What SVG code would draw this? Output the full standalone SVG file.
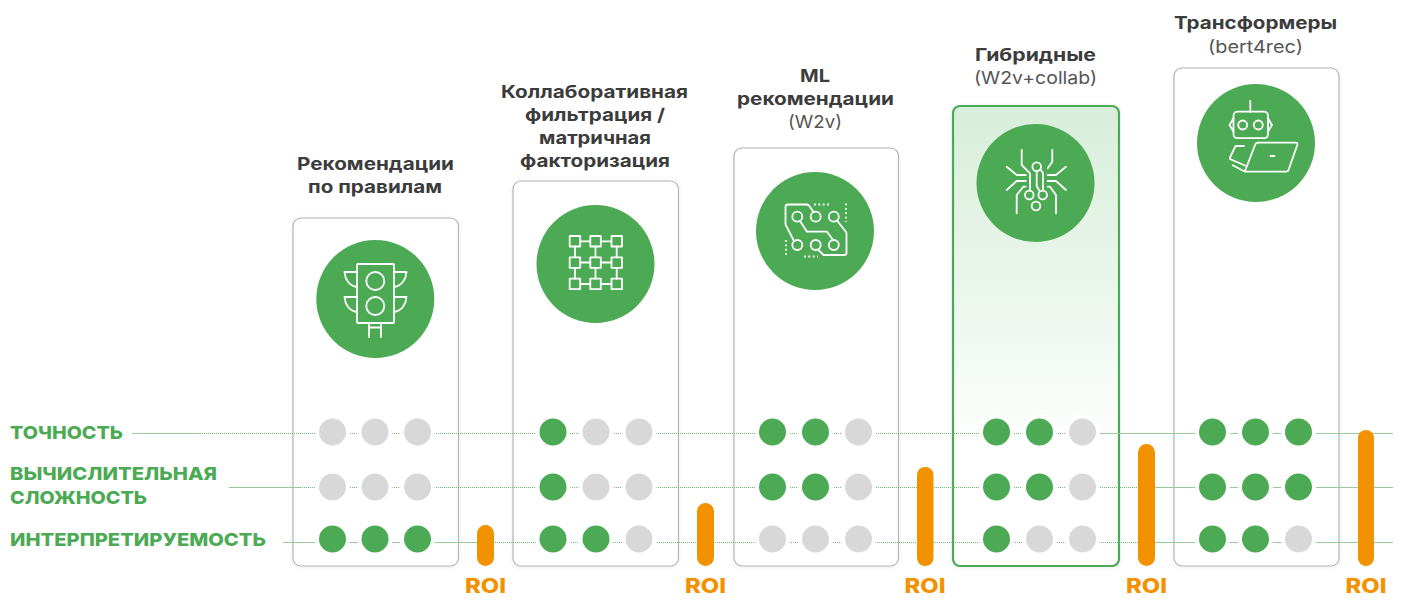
<svg xmlns="http://www.w3.org/2000/svg" width="1407" height="611" viewBox="0 0 1407 611">
<style>
.card{fill:#fff;stroke:#b4b4b4;stroke-width:1.2}
.hl{fill:url(#g);stroke:#4caa54;stroke-width:2.2}
.disc{fill:#4caa54}
.ic{fill:none;stroke:#fff;stroke-width:1.8;stroke-linecap:round;stroke-linejoin:round}
.icd{fill:none;stroke:#fff;stroke-width:1.8;stroke-dasharray:1.8 2.6}
.t{font-family:"Inter","Liberation Sans",sans-serif;font-size:17.5px;font-weight:700;fill:#3c3c3c;text-anchor:middle}
.s{font-family:"Inter","Liberation Sans",sans-serif;font-size:17.5px;font-weight:400;fill:#555;text-anchor:middle}
.l{font-family:"Inter","Liberation Sans",sans-serif;font-size:18px;font-weight:800;fill:#4caa54}
.r{font-family:"Inter","Liberation Sans",sans-serif;font-size:20px;font-weight:800;fill:#f39200;text-anchor:middle}
.sol{stroke:#98cb9c;stroke-width:1.1;fill:none}
.dot{stroke:#6fb976;stroke-width:1.1;stroke-dasharray:1 1;fill:none}
.halo{fill:#fff}
.on{fill:#4caa54}
.off{fill:#d8d8d8}
.bar{fill:#f39200}
</style>
<defs>
<linearGradient id="g" x1="0" y1="0" x2="0" y2="1"><stop offset="0" stop-color="#d8eeda"/><stop offset=".45" stop-color="#edf7ee"/><stop offset=".75" stop-color="#fff"/></linearGradient>
<filter id="sh" x="-10%" y="-5%" width="120%" height="110%"><feDropShadow dx="0" dy="1" stdDeviation="2.5" flood-color="#000" flood-opacity=".07"/></filter>
</defs>

<g id="card-rules">
<rect class="card" filter="url(#sh)" x="293" y="218" width="165.500" height="348" rx="8"/>
<circle class="disc" cx="375.300" cy="299" r="59"/>
<g class="ic">
<rect x="357" y="264" width="37" height="59" rx="1"/>
<circle cx="375.300" cy="281" r="9"/><circle cx="375.300" cy="306" r="9"/>
<path d="M357 272H344.500C345 279 349 286 357 287M394 272H406.500C406 279 402 286 394 287M357 297H344.500C345 304 349 311 357 312M394 297H406.500C406 304 402 311 394 312"/>
<path d="M369 323V337M381 323V337M369 327.500H381"/>
</g>
<text class="t" x="375.500" y="170" textLength="157" lengthAdjust="spacingAndGlyphs">Рекомендации</text>
<text class="t" x="375" y="193" textLength="134" lengthAdjust="spacingAndGlyphs">по правилам</text>
</g>

<g id="card-collab">
<rect class="card" filter="url(#sh)" x="513" y="181" width="165.500" height="385" rx="8"/>
<circle class="disc" cx="595.500" cy="264" r="59"/>
<g class="ic">
<rect x="569.700" y="236" width="10.500" height="10.500"/><rect x="590.300" y="236" width="10.500" height="10.500"/><rect x="611.500" y="236" width="10.500" height="10.500"/>
<rect x="569.700" y="257.300" width="10.500" height="10.500"/><rect x="590.300" y="257.300" width="10.500" height="10.500"/><rect x="611.500" y="257.300" width="10.500" height="10.500"/>
<rect x="569.700" y="278.700" width="10.500" height="10.500"/><rect x="590.300" y="278.700" width="10.500" height="10.500"/><rect x="611.500" y="278.700" width="10.500" height="10.500"/>
<path d="M580.200 241.300H590.300M600.800 241.300H611.500M580.200 262.500H590.300M600.800 262.500H611.500M580.200 284H590.300M600.800 284H611.500M575 246.500V257.300M595.500 246.500V257.300M616.700 246.500V257.300M575 267.800V278.700M595.500 267.800V278.700M616.700 267.800V278.700"/>
</g>
<text class="t" x="594.500" y="98" textLength="187" lengthAdjust="spacingAndGlyphs">Коллаборативная</text>
<text class="t" x="595" y="121" textLength="140" lengthAdjust="spacingAndGlyphs">фильтрация /</text>
<text class="t" x="595" y="144" textLength="112" lengthAdjust="spacingAndGlyphs">матричная</text>
<text class="t" x="595" y="167" textLength="150" lengthAdjust="spacingAndGlyphs">факторизация</text>
</g>

<g id="card-ml">
<rect class="card" filter="url(#sh)" x="734" y="148" width="164.500" height="418" rx="8"/>
<circle class="disc" cx="815" cy="231" r="59"/>
<g class="ic">
<circle cx="797.300" cy="216.700" r="5"/><circle cx="815.700" cy="216.700" r="5"/><circle cx="833.800" cy="216.700" r="5"/>
<circle cx="797.300" cy="245" r="5"/><circle cx="815.700" cy="245" r="5"/><circle cx="833.800" cy="245" r="5"/>
<path d="M813.500 212L809 205.500Q808 204.500 806.500 204.500H788Q785.500 204.500 785.500 207V224.500L794 241"/>
<path d="M800 221L807 231.700H827L833 240"/>
<path d="M837 220.500L846 232Q846.500 233 846.500 234V253Q846.500 255 844.500 255H823.500L818 249.500"/>
</g>
<path class="icd" d="M814 204.500H829M846 203.500V222M786 240V257M804 256.500H818"/>
<text class="t" x="815" y="82" textLength="30" lengthAdjust="spacingAndGlyphs">ML</text>
<text class="t" x="815.500" y="105" textLength="157" lengthAdjust="spacingAndGlyphs">рекомендации</text>
<text class="s" x="815" y="128" textLength="54" lengthAdjust="spacingAndGlyphs">(W2v)</text>
</g>

<g id="card-hybrid">
<rect class="hl" filter="url(#sh)" x="953" y="106" width="166" height="460" rx="7"/>
<circle class="disc" cx="1035.500" cy="183" r="59"/>
<g class="ic">
<circle cx="1036.700" cy="166.700" r="4.300"/><circle cx="1029.300" cy="195" r="4.300"/><circle cx="1042.700" cy="195" r="4.300"/><circle cx="1036" cy="206" r="4.300"/>
<path d="M1021.700 150V165L1030 173.300V190.700"/>
<path d="M1052.300 150V161.700L1047.700 168.300"/>
<path d="M1036.700 171V186L1039.500 191"/>
<path d="M1040.500 169.500L1043 173V190.500"/>
<path d="M1006.700 166.700L1016.700 175H1025.700M1006.700 190L1016.700 181H1025.700M1066 166.700L1056 175H1047.700M1066 190L1056 181H1047.700"/>
<path d="M1016.700 213.300V195L1023.300 186.700H1025.700M1056 213.300V195L1050 186.700H1047.700"/>
</g>
<text class="t" x="1035.500" y="61" textLength="121" lengthAdjust="spacingAndGlyphs">Гибридные</text>
<text class="s" x="1035.500" y="84" textLength="123" lengthAdjust="spacingAndGlyphs">(W2v+collab)</text>
</g>

<g id="card-transformers">
<rect class="card" filter="url(#sh)" x="1174" y="68" width="165" height="498" rx="8"/>
<circle class="disc" cx="1256" cy="143" r="59"/>
<g class="ic">
<path d="M1250.300 101V111.700"/>
<rect x="1233.500" y="111.700" width="34.500" height="26.500" rx="4"/>
<path d="M1233.500 118.500L1229.500 125L1233.500 131.500M1268 118.500L1272 125L1268 131.500"/>
<circle cx="1242.700" cy="125" r="4.500"/><circle cx="1258.300" cy="125" r="4.500"/>
<path d="M1258 142.700H1295.500Q1298 142.700 1297.300 145L1288.500 170Q1288 171.700 1286 171.700H1245L1232.700 165.300"/>
<path d="M1258 142.700Q1256 142.700 1255.200 144.500L1245 171"/>
<path d="M1244 146H1235.500L1230 157.500Q1229.500 159 1231 159.500L1245 165.500"/>
<path d="M1270.500 156H1274.500"/>
</g>
<text class="t" x="1255.500" y="29" textLength="163" lengthAdjust="spacingAndGlyphs">Трансформеры</text>
<text class="s" x="1255.500" y="53" textLength="95" lengthAdjust="spacingAndGlyphs">(bert4rec)</text>
</g>

<g id="connectors">
<path class="sol" d="M132 433.500H200M229 487.500H300M283 542.500H477M1100 433.500H1393M1138 487.500H1393M1138 542.500H1393"/>
<path class="dot" d="M200 433.500H1100M300 487.500H1138M477 542.500H1138"/>
</g>

<g id="rating-dots">
<g class="halo">
<circle cx="332.500" cy="432" r="17.500"/><circle cx="375" cy="432" r="17.500"/><circle cx="417.500" cy="432" r="17.500"/>
<circle cx="332.500" cy="487" r="17.500"/><circle cx="375" cy="487" r="17.500"/><circle cx="417.500" cy="487" r="17.500"/>
<circle cx="332.500" cy="539" r="17.500"/><circle cx="375" cy="539" r="17.500"/><circle cx="417.500" cy="539" r="17.500"/>
<circle cx="553" cy="432" r="17.500"/><circle cx="596" cy="432" r="17.500"/><circle cx="639" cy="432" r="17.500"/>
<circle cx="553" cy="487" r="17.500"/><circle cx="596" cy="487" r="17.500"/><circle cx="639" cy="487" r="17.500"/>
<circle cx="553" cy="539" r="17.500"/><circle cx="596" cy="539" r="17.500"/><circle cx="639" cy="539" r="17.500"/>
<circle cx="772.500" cy="432" r="17.500"/><circle cx="815.500" cy="432" r="17.500"/><circle cx="858.500" cy="432" r="17.500"/>
<circle cx="772.500" cy="487" r="17.500"/><circle cx="815.500" cy="487" r="17.500"/><circle cx="858.500" cy="487" r="17.500"/>
<circle cx="772.500" cy="539" r="17.500"/><circle cx="815.500" cy="539" r="17.500"/><circle cx="858.500" cy="539" r="17.500"/>
<circle cx="996.500" cy="432" r="17.500"/><circle cx="1039.500" cy="432" r="17.500"/><circle cx="1082.500" cy="432" r="17.500"/>
<circle cx="996.500" cy="487" r="17.500"/><circle cx="1039.500" cy="487" r="17.500"/><circle cx="1082.500" cy="487" r="17.500"/>
<circle cx="996.500" cy="539" r="17.500"/><circle cx="1039.500" cy="539" r="17.500"/><circle cx="1082.500" cy="539" r="17.500"/>
<circle cx="1212.500" cy="432" r="17.500"/><circle cx="1255.500" cy="432" r="17.500"/><circle cx="1298.500" cy="432" r="17.500"/>
<circle cx="1212.500" cy="487" r="17.500"/><circle cx="1255.500" cy="487" r="17.500"/><circle cx="1298.500" cy="487" r="17.500"/>
<circle cx="1212.500" cy="539" r="17.500"/><circle cx="1255.500" cy="539" r="17.500"/><circle cx="1298.500" cy="539" r="17.500"/>
</g>
<circle class="off" cx="332.500" cy="432" r="13.500"/><circle class="off" cx="375" cy="432" r="13.500"/><circle class="off" cx="417.500" cy="432" r="13.500"/>
<circle class="off" cx="332.500" cy="487" r="13.500"/><circle class="off" cx="375" cy="487" r="13.500"/><circle class="off" cx="417.500" cy="487" r="13.500"/>
<circle class="on" cx="332.500" cy="539" r="13.500"/><circle class="on" cx="375" cy="539" r="13.500"/><circle class="on" cx="417.500" cy="539" r="13.500"/>
<circle class="on" cx="553" cy="432" r="13.500"/><circle class="off" cx="596" cy="432" r="13.500"/><circle class="off" cx="639" cy="432" r="13.500"/>
<circle class="on" cx="553" cy="487" r="13.500"/><circle class="off" cx="596" cy="487" r="13.500"/><circle class="off" cx="639" cy="487" r="13.500"/>
<circle class="on" cx="553" cy="539" r="13.500"/><circle class="on" cx="596" cy="539" r="13.500"/><circle class="off" cx="639" cy="539" r="13.500"/>
<circle class="on" cx="772.500" cy="432" r="13.500"/><circle class="on" cx="815.500" cy="432" r="13.500"/><circle class="off" cx="858.500" cy="432" r="13.500"/>
<circle class="on" cx="772.500" cy="487" r="13.500"/><circle class="on" cx="815.500" cy="487" r="13.500"/><circle class="off" cx="858.500" cy="487" r="13.500"/>
<circle class="off" cx="772.500" cy="539" r="13.500"/><circle class="off" cx="815.500" cy="539" r="13.500"/><circle class="off" cx="858.500" cy="539" r="13.500"/>
<circle class="on" cx="996.500" cy="432" r="13.500"/><circle class="on" cx="1039.500" cy="432" r="13.500"/><circle class="off" cx="1082.500" cy="432" r="13.500"/>
<circle class="on" cx="996.500" cy="487" r="13.500"/><circle class="on" cx="1039.500" cy="487" r="13.500"/><circle class="off" cx="1082.500" cy="487" r="13.500"/>
<circle class="on" cx="996.500" cy="539" r="13.500"/><circle class="off" cx="1039.500" cy="539" r="13.500"/><circle class="off" cx="1082.500" cy="539" r="13.500"/>
<circle class="on" cx="1212.500" cy="432" r="13.500"/><circle class="on" cx="1255.500" cy="432" r="13.500"/><circle class="on" cx="1298.500" cy="432" r="13.500"/>
<circle class="on" cx="1212.500" cy="487" r="13.500"/><circle class="on" cx="1255.500" cy="487" r="13.500"/><circle class="on" cx="1298.500" cy="487" r="13.500"/>
<circle class="on" cx="1212.500" cy="539" r="13.500"/><circle class="on" cx="1255.500" cy="539" r="13.500"/><circle class="off" cx="1298.500" cy="539" r="13.500"/>
</g>

<g id="axis-labels">
<text class="l" x="10" y="438.500" textLength="113" lengthAdjust="spacingAndGlyphs">ТОЧНОСТЬ</text>
<text class="l" x="10" y="480" textLength="207" lengthAdjust="spacingAndGlyphs">ВЫЧИСЛИТЕЛЬНАЯ</text>
<text class="l" x="10" y="503.500" textLength="137" lengthAdjust="spacingAndGlyphs">СЛОЖНОСТЬ</text>
<text class="l" x="10" y="546" textLength="256" lengthAdjust="spacingAndGlyphs">ИНТЕРПРЕТИРУЕМОСТЬ</text>
</g>

<g id="roi-1"><rect class="bar" x="477" y="525" width="17" height="41" rx="8.500"/><text class="r" x="485.500" y="593" textLength="41" lengthAdjust="spacingAndGlyphs">ROI</text></g>
<g id="roi-2"><rect class="bar" x="697" y="503" width="17" height="63" rx="8.500"/><text class="r" x="705.500" y="593" textLength="41" lengthAdjust="spacingAndGlyphs">ROI</text></g>
<g id="roi-3"><rect class="bar" x="917" y="467" width="16.500" height="99" rx="8"/><text class="r" x="925" y="593" textLength="41" lengthAdjust="spacingAndGlyphs">ROI</text></g>
<g id="roi-4"><rect class="bar" x="1138" y="444" width="17" height="122" rx="8.500"/><text class="r" x="1146.500" y="593" textLength="41" lengthAdjust="spacingAndGlyphs">ROI</text></g>
<g id="roi-5"><rect class="bar" x="1358" y="430" width="16" height="136" rx="8"/><text class="r" x="1366" y="593" textLength="41" lengthAdjust="spacingAndGlyphs">ROI</text></g>
</svg>
